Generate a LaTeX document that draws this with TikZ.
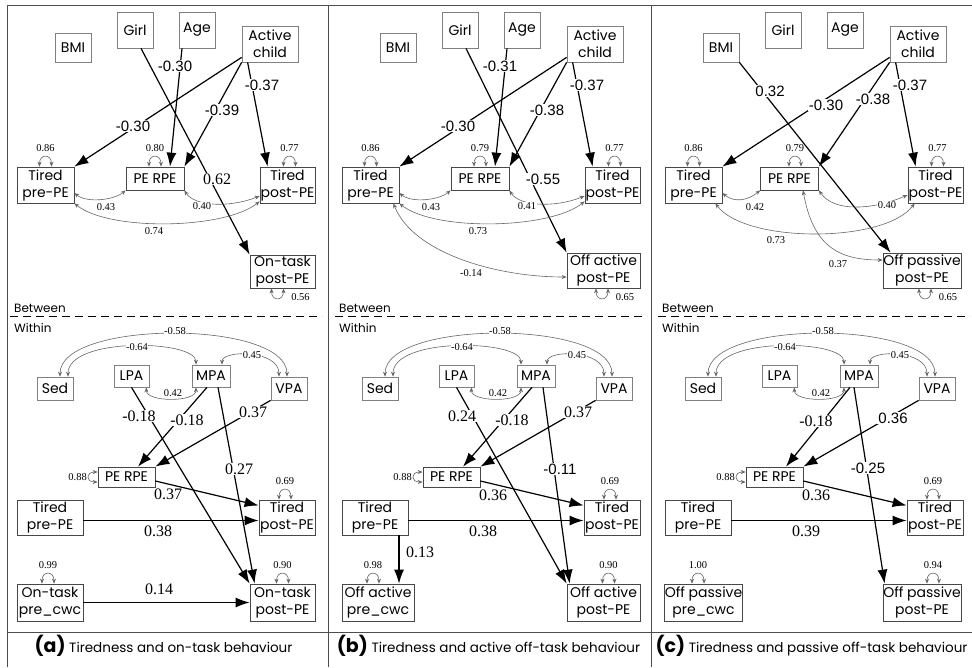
\documentclass[tikz,border=0pt]{standalone}
\usepackage{fontspec}
\setmainfont{Poppins}
\newfontfamily\numsans{Liberation Sans}
\newfontfamily\numser{Liberation Serif}
\usetikzlibrary{arrows.meta}
\tikzset{
 bx/.style={draw=black!72, line width=0.75pt, inner sep=0pt, align=center, fill=white, font=\fontsize{14}{17}\selectfont},
 exo/.style={bx, draw=black!50},
 wh/.style 2 args={minimum width=#1pt, minimum height=#2pt},
 reg/.style={line width=1.2pt, -{Latex[length=14pt,width=10pt]}},
 cov/.style={draw=black!60, line width=0.6pt, {Stealth[length=5pt,width=4pt]}-{Stealth[length=5pt,width=4pt]}},
 ls/.style={font=\numsans\fontsize{15}{15}\selectfont, fill=white, inner sep=1pt},
 lr/.style={font=\numser\fontsize{16}{16}\selectfont, fill=white, inner sep=1pt},
 lm/.style={font=\numser\fontsize{10.5}{10.5}\selectfont, inner sep=0.5pt},
 lmw/.style={lm, fill=white},
 framestyle/.style={draw=black!70, line width=0.9pt},
 sepline/.style={line width=1pt, dash pattern=on 8pt off 5pt},
 tagtext/.style={anchor=west, inner sep=0pt, font=\fontsize{12}{12}\selectfont},
 captext/.style={inner sep=0pt, font=\fontsize{13.5}{15}\selectfont},
}
\newcommand\looptop[4]{%
 \draw[cov] ([xshift=#2pt-6pt]#1.north) .. controls +(0,-13) and +(0,-13) .. ([xshift=#2pt+6pt]#1.north);
 \node[lm] (#3) at ([xshift=#2pt,yshift=19pt]#1.north) {#4};}
\newcommand\loopbot[4]{%
 \draw[cov] ([xshift=#2pt-6pt]#1.south) .. controls +(0,13) and +(0,13) .. ([xshift=#2pt+6pt]#1.south);
 \node[lm] (#3) at ([xshift=#2pt+23pt,yshift=-9pt]#1.south) {#4};}
\newcommand\panelcommon[2]{%
 \node[exo,wh={36}{29}] (#1bmi) at (73,47.5) {BMI};
 \node[exo,wh={36}{36}] (#1girl) at (135,30) {Girl};
 \node[exo,wh={36}{36}] (#1age) at (197,30) {Age};
 \node[exo,wh={56}{36}] (#1act) at (270,44) {Active\\child};
 \node[bx,wh={57}{36}] (#1tpre) at (45.5,185) {Tired\\pre-PE};
 \node[bx,wh={58}{23}] (#1rpe) at (#2,178.5) {PE RPE};
 \node[bx,wh={55}{36}] (#1tpost) at (287.5,185) {Tired\\post-PE};
 \node[exo,wh={36}{23}] (#1sed) at (55,388.5) {Sed};
 \node[exo,wh={35}{22}] (#1lpa) at (131.5,376) {LPA};
 \node[exo,wh={38}{22}] (#1mpa) at (211,376) {MPA};
 \node[exo,wh={36}{23}] (#1vpa) at (289,388.5) {VPA};
 \node[bx,wh={57}{20}] (#1rpe2) at (126.5,477) {PE RPE};
 \node[bx,wh={66}{35}] (#1tpre2) at (50,517.5) {Tired\\pre-PE};
 \node[bx,wh={56}{35}] (#1tpost2) at (287,517.5) {Tired\\post-PE};
 \draw[sepline] (10,316) -- (322,316);
 \node[tagtext] (#1between) at (14,308) {Between};
 \node[tagtext] (#1within) at (14,328) {Within};
 \draw[reg] ([yshift=5pt]#1act.south west) -- (#1tpre.north east);
 \draw[reg] (#1act.south west) -- (#1rpe.north east);
 \draw[reg] ([xshift=6pt]#1act.south west) -- ([xshift=8pt]#1tpost.north west);
 \draw[reg] (#1vpa.south west) -- (#1rpe2.north east);
 \draw[reg] ([yshift=-4pt]#1rpe2.east) -- ([yshift=12pt]#1tpost2.west);
 \draw[reg] ([yshift=-3pt]#1tpre2.east) -- ([yshift=-3pt]#1tpost2.west);
 \draw[cov] ([xshift=5pt]#1sed.north) .. controls +(0,-57) and +(0,-57) .. ([xshift=-2pt]#1vpa.north);
 \draw[cov] ([xshift=13pt]#1sed.north) .. controls +(0,-40) and +(0,-25) .. ([xshift=-15pt]#1mpa.north);
 \draw[cov] ([xshift=11pt]#1mpa.north) .. controls +(0,-15) and +(0,-27) .. ([xshift=-10pt]#1vpa.north);
 \draw[cov] ([xshift=-3pt]#1lpa.south east) .. controls +(0,15) and +(0,15) .. ([xshift=-15pt]#1mpa.south);
 \draw[cov] ([yshift=5pt]#1rpe2.west) .. controls +(-12,0) and +(-12,0) .. ([yshift=-5pt]#1rpe2.west);
 \looptop{#1tpre}{0}{#1vtpre}{0.86}
 \looptop{#1tpost}{2}{#1vtpost}{0.77}
 \looptop{#1tpost2}{-2}{#1vtpost2}{0.69}
 \node[lm] (#1vrpe2) at ([xshift=-20pt]#1rpe2.west) {0.88};
 \node[ls] (#1l37) at (262,85) {-0.37};
 \node[lmw] (#1c58) at (175,331) {-0.58};
 \node[lmw] (#1c64) at (137,347) {-0.64};
 \node[lmw] (#1c45) at (252,355) {0.45};
 \node[lm] (#1c42) at (173,393) {0.42};
}
\begin{document}
\begin{tikzpicture}[x=1pt,y=-1pt]
\useasboundingbox (0,0) rectangle (972,667);
% frame
\draw[framestyle] (7,667) -- (7,5) -- (972,5);
\draw[framestyle] (328,5) -- (328,667);
\draw[framestyle] (651,5) -- (651,667);
\draw[framestyle] (7,632) -- (972,632);

% ---------------- panel (a)
\begin{scope}
\panelcommon{a}{155}
\node[bx,wh={65}{33}] (aout) at (282.5,271.5) {On-task\\post-PE};
\node[bx,wh={66}{37}] (apre) at (50,602.5) {On-task\\pre\_cwc};
\node[bx,wh={65}{37}] (apost) at (282.5,602.5) {On-task\\post-PE};
\draw[reg] ([xshift=-15pt]aage.south) -- ([xshift=15pt]arpe.north);
\draw[reg] ([xshift=6pt]agirl.south) -- (aout.north west);
\draw[cov] ([yshift=-8pt]atpre.east) .. controls +(12,10) and +(-12,10) .. (arpe.south west);
\draw[cov] (arpe.south east) .. controls +(10,16) and +(-30,12) .. ([yshift=-11pt]atpost.west);
\draw[cov] (atpre.south east) .. controls +(35,28) and +(-35,28) .. ([yshift=2pt]atpost.south west);
\looptop{arpe}{0}{avrpe}{0.80}
\loopbot{aout}{-5}{avout}{0.56}
\draw[reg] (alpa.south) -- (apost.north west);
\draw[reg] ([xshift=-4pt]ampa.south) -- ([xshift=11.5pt]arpe2.north);
\draw[reg] ([xshift=7pt]ampa.south) -- ([xshift=5pt]apost.north west);
\draw[reg] (apre.east) -- (apost.west);
\looptop{apre}{-2}{avpre}{0.99}
\looptop{apost}{0}{avpost}{0.90}
\node[ls] (al1) at (133,126) {-0.30};
\node[ls] (al2) at (222,110) {-0.39};
\node[ls] (al3) at (175,66) {-0.30};
\node[lr] (al4) at (217,179) {0.62};
\node[lm] (al5) at (106,207) {0.43};
\node[lmw] (al6) at (202,206) {0.40};
\node[lm] (al7) at (154,231) {0.74};
\node[lr] (al8) at (139,416) {-0.18};
\node[lr] (al9) at (187,420) {-0.18};
\node[lr] (al10) at (253,412) {0.37};
\node[lr] (al11) at (239,469) {0.27};
\node[lr] (al12) at (168,494) {0.37};
\node[lr] (al13) at (158,531) {0.38};
\node[lr] (al14) at (159,589) {0.14};
\node[captext] (capa) at (163.5,646) {{\fontsize{19}{19}\selectfont\bfseries (a)} Tiredness and on-task behaviour};
\end{scope}

% ---------------- panel (b)
\begin{scope}[shift={(325,0)}]
\panelcommon{b}{155}
\node[bx,wh={73}{35}] (bout) at (278.5,270.5) {Off active\\post-PE};
\node[bx,wh={72}{37}] (bpre) at (53,602.5) {Off active\\pre\_cwc};
\node[bx,wh={73}{37}] (bpost) at (278.5,602.5) {Off active\\post-PE};
\draw[reg] ([xshift=-15pt]bage.south) -- ([xshift=15pt]brpe.north);
\draw[reg] ([xshift=6pt]bgirl.south) -- (bout.north west);
\draw[cov] ([yshift=-8pt]btpre.east) .. controls +(12,10) and +(-12,10) .. (brpe.south west);
\draw[cov] (brpe.south east) .. controls +(10,16) and +(-30,12) .. ([yshift=-11pt]btpost.west);
\draw[cov] (btpre.south east) .. controls +(35,28) and +(-35,28) .. ([yshift=2pt]btpost.south west);
\draw[cov] ([xshift=-6pt]btpre.south east) .. controls +(20,50) and +(-70,0) .. ([yshift=-6.5pt]bout.west);
\looptop{brpe}{0}{bvrpe}{0.79}
\loopbot{bout}{-1.5}{bvout}{0.65}
\draw[reg] (blpa.south) -- (bpost.north west);
\draw[reg] ([xshift=-4pt]bmpa.south) -- ([xshift=11.5pt]brpe2.north);
\draw[reg] ([xshift=7pt]bmpa.south) -- ([xshift=3pt]bpost.north west);
\draw[reg] ([xshift=24pt]btpre2.south) -- ([xshift=24pt]btpre2.south |- bpre.north);
\looptop{bpre}{-5}{bvpre}{0.98}
\looptop{bpost}{5}{bvpost}{0.90}
\node[ls] (bl1) at (133,126) {-0.30};
\node[ls] (bl2) at (222,110) {-0.38};
\node[ls] (bl3) at (175,66) {-0.31};
\node[ls] (bl4) at (218,179) {-0.55};
\node[lm] (bl5) at (106,207) {0.43};
\node[lmw] (bl6) at (202,206) {0.41};
\node[lm] (bl7) at (153,231) {0.73};
\node[lm] (bl7b) at (146,273) {-0.14};
\node[lr] (bl8) at (137,416) {0.24};
\node[lr] (bl9) at (187,420) {-0.18};
\node[lr] (bl10) at (253,412) {0.37};
\node[ls] (bl11) at (235,469) {-0.11};
\node[lr] (bl12) at (168,495) {0.36};
\node[lr] (bl13) at (158,531) {0.38};
\node[lr] (bl14) at (95,552) {0.13};
\node[captext] (capb) at (163.5,646) {{\fontsize{19}{19}\selectfont\bfseries (b)} Tiredness and active off-task behaviour};
\end{scope}

% ---------------- panel (c)
\begin{scope}[shift={(648,0)}]
\panelcommon{c}{141.5}
\node[bx,wh={78}{35}] (cout) at (274,270.5) {Off passive\\post-PE};
\node[bx,wh={77}{37}] (cpre) at (55.5,602.5) {Off passive\\pre\_cwc};
\node[bx,wh={78}{37}] (cpost) at (274,602.5) {Off passive\\post-PE};
\draw[reg] (cbmi.south east) -- ([xshift=8pt]cout.north west);
\draw[cov] ([yshift=-8pt]ctpre.east) .. controls +(12,10) and +(-12,10) .. (crpe.south west);
\draw[cov] (crpe.south east) .. controls +(15,22) and +(-35,15) .. ([yshift=-10pt]ctpost.west);
\draw[cov] ([xshift=-7pt]ctpre.south east) .. controls +(30,40) and +(-30,40) .. ([xshift=7pt]ctpost.south west);
\draw[cov] ([xshift=13.5pt]crpe.south) .. controls +(10,55) and +(-45,0) .. ([yshift=10.5pt]cout.west);
\looptop{crpe}{5.5}{cvrpe}{0.79}
\loopbot{cout}{3}{cvout}{0.65}
\draw[reg] ([xshift=-9pt]cmpa.south) -- ([xshift=11.5pt]crpe2.north);
\draw[reg] ([xshift=-5pt]cmpa.south) -- ([xshift=2pt]cpost.north west);
\looptop{cpre}{-5.5}{cvpre}{1.00}
\looptop{cpost}{11}{cvpost}{0.94}
\node[ls] (cl1) at (178,105) {-0.30};
\node[ls] (cl2) at (225,99) {-0.38};
\node[ls] (cl3) at (122,91) {0.32};
\node[lm] (cl5) at (107,207) {0.42};
\node[lmw] (cl6) at (239,205) {0.40};
\node[lm] (cl7) at (128,240) {0.73};
\node[lm] (cl7b) at (190,264) {0.37};
\node[lr] (cl9) at (168,421) {-0.18};
\node[ls] (cl10) at (245,418) {0.36};
\node[ls] (cl11) at (220,468) {-0.25};
\node[lr] (cl12) at (168,495) {0.36};
\node[lr] (cl13) at (158,531) {0.39};
\node[captext] (capc) at (163.5,646) {{\fontsize{19}{19}\selectfont\bfseries (c)} Tiredness and passive off-task behaviour};
\end{scope}
\end{tikzpicture}
\end{document}
